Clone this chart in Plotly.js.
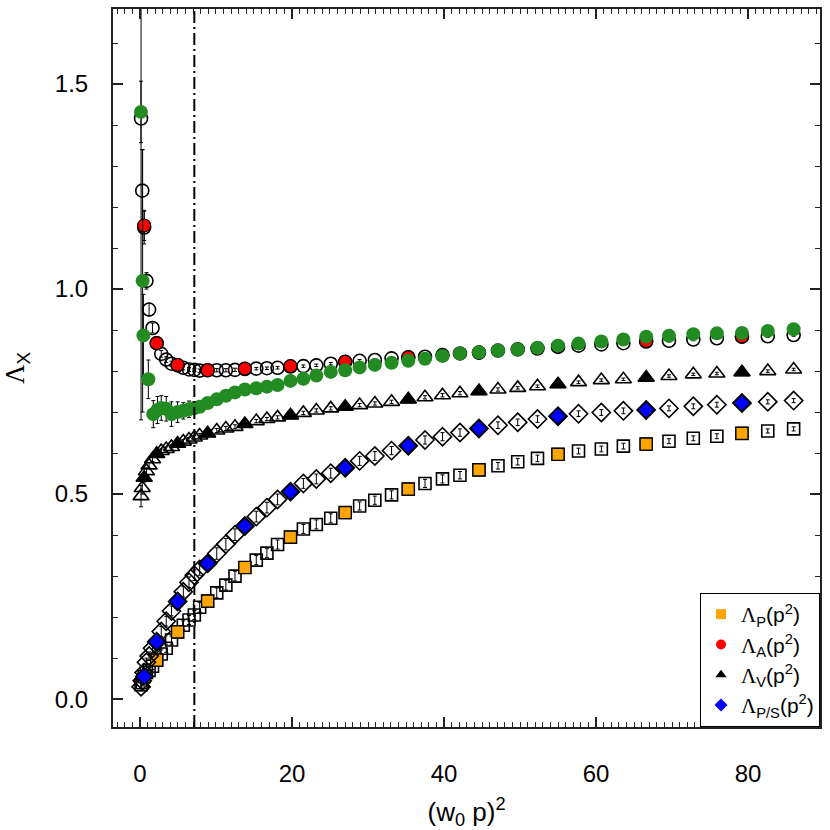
<!DOCTYPE html>
<html>
<head>
<meta charset="utf-8">
<script src="https://cdn.plot.ly/plotly-3.0.1.min.js"></script>
<style>
  html, body { margin: 0; padding: 0; background: #fff; }
  #chart { width: 830px; height: 830px; }
</style>
</head>
<body>
<div id="chart"></div>
<script>
// momenta (w0 p)^2 of the full data set
const gridX = [0.14, 0.3, 0.55, 0.85, 1.2, 1.65, 2.2, 2.8, 3.45, 4.15, 4.95, 5.7, 6.45, 7.15, 7.85, 8.9,
  10.1, 11.3, 12.5, 13.8, 15.3, 16.7, 18.1, 19.8, 21.5, 23.2, 25.1, 27.0, 28.9, 30.9, 33.1, 35.3,
  37.5, 39.8, 42.1, 44.6, 47.1, 49.7, 52.3, 55.0, 57.7, 60.7, 63.6, 66.6, 69.6, 72.8, 75.9, 79.2, 82.6, 86.0];

// open symbols
const circY = [1.416, 1.24, 1.15, 1.02, 0.95, 0.905, 0.868, 0.842, 0.828, 0.818, 0.814, 0.808, 0.804, 0.803, 0.801, 0.802,
  0.802, 0.802, 0.803, 0.805, 0.806, 0.807, 0.808, 0.811, 0.812, 0.814, 0.818, 0.822, 0.825, 0.827, 0.831, 0.833,
  0.835, 0.839, 0.843, 0.845, 0.850, 0.853, 0.855, 0.859, 0.862, 0.865, 0.868, 0.872, 0.874, 0.877, 0.880, 0.884, 0.885, 0.888];
const circErr = [0.735, 0.1, 0.04, 0.02, 0.015, 0.012, 0.01, 0.008, 0.007, 0.006, 0.005, 0.005, 0.005, 0.004, 0.004, 0.004,
  0.004, 0.004, 0.004, 0.004, 0.003, 0.003, 0.003, 0.003, 0.003, 0.003, 0.003, 0.003, 0.003, 0.003, 0.003, 0.003,
  0.003, 0.003, 0.003, 0.003, 0.003, 0.003, 0.003, 0.003, 0.003, 0.003, 0.003, 0.003, 0.003, 0.003, 0.003, 0.003, 0.003, 0.003];

const triY = [0.495, 0.515, 0.54, 0.556, 0.57, 0.585, 0.598, 0.605, 0.61, 0.615, 0.623, 0.628, 0.633, 0.638, 0.643, 0.648,
  0.655, 0.66, 0.664, 0.671, 0.678, 0.683, 0.687, 0.692, 0.698, 0.704, 0.709, 0.713, 0.717, 0.721, 0.725, 0.731,
  0.736, 0.741, 0.746, 0.751, 0.755, 0.759, 0.763, 0.768, 0.773, 0.778, 0.780, 0.784, 0.788, 0.792, 0.794, 0.797, 0.800, 0.804];
const triErr = [0.026, 0.015, 0.01, 0.008, 0.007, 0.006, 0.006, 0.005, 0.005, 0.005, 0.005, 0.005, 0.005, 0.005, 0.005, 0.005,
  0.005, 0.005, 0.005, 0.004, 0.004, 0.004, 0.004, 0.004, 0.004, 0.004, 0.004, 0.004, 0.004, 0.004, 0.004, 0.004,
  0.004, 0.004, 0.004, 0.004, 0.004, 0.003, 0.003, 0.003, 0.003, 0.003, 0.003, 0.003, 0.003, 0.003, 0.003, 0.003, 0.003, 0.003];

const diaY = [0.03, 0.045, 0.065, 0.09, 0.105, 0.124, 0.14, 0.165, 0.19, 0.215, 0.238, 0.262, 0.285, 0.302, 0.316, 0.331,
  0.355, 0.378, 0.401, 0.422, 0.445, 0.467, 0.487, 0.506, 0.526, 0.537, 0.551, 0.564, 0.581, 0.593, 0.606, 0.618,
  0.632, 0.640, 0.650, 0.660, 0.668, 0.675, 0.683, 0.690, 0.696, 0.699, 0.703, 0.705, 0.709, 0.714, 0.718, 0.722, 0.725, 0.728];
const diaErr = [0.01, 0.01, 0.01, 0.01, 0.01, 0.01, 0.01, 0.012, 0.012, 0.012, 0.012, 0.013, 0.013, 0.013, 0.014, 0.014,
  0.014, 0.014, 0.014, 0.014, 0.013, 0.013, 0.013, 0.013, 0.012, 0.012, 0.012, 0.011, 0.011, 0.011, 0.01, 0.01,
  0.01, 0.01, 0.009, 0.009, 0.008, 0.008, 0.008, 0.008, 0.007, 0.007, 0.007, 0.007, 0.006, 0.006, 0.006, 0.006, 0.005, 0.005];

const sqY = [0.035, 0.04, 0.055, 0.065, 0.07, 0.08, 0.095, 0.11, 0.124, 0.144, 0.164, 0.18, 0.193, 0.205, 0.224, 0.239,
  0.259, 0.278, 0.300, 0.321, 0.339, 0.356, 0.377, 0.395, 0.415, 0.426, 0.441, 0.455, 0.471, 0.485, 0.498, 0.512,
  0.526, 0.537, 0.546, 0.559, 0.569, 0.579, 0.587, 0.597, 0.605, 0.610, 0.617, 0.622, 0.629, 0.636, 0.641, 0.648, 0.654, 0.659];
const sqErr = [0.008, 0.008, 0.008, 0.008, 0.008, 0.008, 0.008, 0.01, 0.01, 0.01, 0.01, 0.011, 0.011, 0.011, 0.012, 0.012,
  0.012, 0.012, 0.012, 0.012, 0.011, 0.011, 0.011, 0.011, 0.011, 0.011, 0.011, 0.01, 0.01, 0.01, 0.01, 0.01,
  0.01, 0.01, 0.009, 0.009, 0.008, 0.008, 0.008, 0.008, 0.007, 0.007, 0.007, 0.007, 0.006, 0.006, 0.006, 0.006, 0.005, 0.005];

// filled symbols (subset of momenta)
const fillX = [0.55, 2.2, 4.95, 8.9, 13.8, 19.8, 27.0, 35.3, 44.6, 55.0, 66.6, 79.2];
const lamA = [1.155, 0.868, 0.815, 0.802, 0.806, 0.812, 0.823, 0.834, 0.845, 0.860, 0.873, 0.884];
const lamAErr = [0.037, 0.01, 0.006, 0.005, 0.004, 0.004, 0.003, 0.003, 0.003, 0.003, 0.003, 0.003];
const lamV = [0.54, 0.598, 0.623, 0.648, 0.671, 0.692, 0.713, 0.731, 0.751, 0.768, 0.784, 0.797];
const lamVErr = [0.01, 0.006, 0.005, 0.005, 0.004, 0.004, 0.004, 0.004, 0.004, 0.003, 0.003, 0.003];
const lamPS = [0.055, 0.14, 0.238, 0.331, 0.422, 0.506, 0.564, 0.618, 0.66, 0.69, 0.705, 0.722];
const lamPSErr = [0.01, 0.01, 0.012, 0.014, 0.014, 0.013, 0.012, 0.01, 0.009, 0.008, 0.007, 0.006];
const lamP = [0.055, 0.095, 0.164, 0.239, 0.321, 0.395, 0.455, 0.512, 0.559, 0.597, 0.622, 0.648];
const lamPErr = [0.008, 0.008, 0.01, 0.012, 0.012, 0.011, 0.01, 0.01, 0.009, 0.008, 0.007, 0.006];

// green circles
const greenX = [0.13, 0.35, 0.45, 1.1, 1.75, 2.3, 2.8, 3.45, 4.15, 4.95, 5.7, 6.45, 7.15, 7.85, 8.9,
  10.1, 11.3, 12.5, 13.8, 15.3, 16.7, 18.1, 19.8, 21.5, 23.2, 25.1, 27.0, 28.9, 30.9, 33.1, 35.3,
  37.5, 39.8, 42.1, 44.6, 47.1, 49.7, 52.3, 55.0, 57.7, 60.7, 63.6, 66.6, 69.6, 72.8, 75.9, 79.2, 82.6, 86.0];
const greenY = [1.432, 1.02, 0.887, 0.78, 0.695, 0.705, 0.71, 0.708, 0.695, 0.700, 0.703, 0.707, 0.71, 0.713, 0.722,
  0.731, 0.740, 0.748, 0.755, 0.758, 0.762, 0.766, 0.776, 0.781, 0.789, 0.798, 0.802, 0.809, 0.815, 0.820, 0.825,
  0.830, 0.837, 0.843, 0.846, 0.850, 0.853, 0.857, 0.862, 0.867, 0.872, 0.877, 0.884, 0.886, 0.890, 0.892, 0.893, 0.898, 0.902];
const greenErr = [0.075, 0.32, 0.1, 0.047, 0.033, 0.033, 0.03, 0.03, 0.03, 0.025, 0.02, 0.02, 0.015, 0.012, 0.01,
  0.01, 0.008, 0.008, 0.007, 0.006, 0.006, 0.006, 0.005, 0.005, 0.005, 0.004, 0.004, 0.004, 0.004, 0.004, 0.004,
  0.003, 0.003, 0.003, 0.003, 0.003, 0.003, 0.003, 0.003, 0.003, 0.003, 0.003, 0.003, 0.003, 0.003, 0.003, 0.003, 0.003, 0.003];

const cutX = 7.15;
const LAM = "<span style='font-family:Liberation Serif'>Λ</span>";
const legendNames = [LAM + "<sub>P</sub>(p<sup>2</sup>)", LAM + "<sub>A</sub>(p<sup>2</sup>)",
  LAM + "<sub>V</sub>(p<sup>2</sup>)", LAM + "<sub>P/S</sub>(p<sup>2</sup>)"];

function errBar(arr) {
  return { type: "data", array: arr, visible: true, color: "#000", thickness: 1, width: 2 };
}

function pts(x, y, err, symbol, size, fill, lineW) {
  return {
    type: "scatter",
    mode: "markers",
    x, y,
    error_y: errBar(err),
    marker: { symbol, size, color: fill, line: { color: "#000", width: lineW } },
    showlegend: false,
    hoverinfo: "x+y",
  };
}

// legend-only entries (no outline, like the reference key)
function key(name, symbol, color) {
  return {
    type: "scatter", mode: "markers", x: [null], y: [null], name,
    marker: { symbol, size: 10, color, line: { width: 0 } },
    showlegend: true, hoverinfo: "skip",
  };
}

const traces = [
  pts(gridX, sqY, sqErr, "square-open", 12, "#000", 1.6),
  pts(fillX, lamP, lamPErr, "square", 12, "#ffa500", 1.2),
  pts(gridX, diaY, diaErr, "diamond-open", 14, "#000", 1.6),
  pts(fillX, lamPS, lamPSErr, "diamond", 13, "#0000ff", 1.5),
  pts(gridX, triY, triErr, "triangle-up-open", 14, "#000", 1.6),
  pts(fillX, lamV, lamVErr, "triangle-up", 14, "#000", 1),
  pts(gridX, circY, circErr, "circle-open", 13, "#000", 1.6),
  pts(fillX, lamA, lamAErr, "circle", 13, "#ff0000", 1.2),
  pts(greenX, greenY, greenErr, "circle", 14, "#228b22", 0),
  key(legendNames[0], "square", "#ffa500"),
  key(legendNames[1], "circle", "#ff0000"),
  key(legendNames[2], "triangle-up", "#000"),
  key(legendNames[3], "diamond", "#0000ff"),
];

const axisCommon = {
  showline: true,
  linecolor: "#222",
  linewidth: 2,
  mirror: "allticks",
  ticks: "inside",
  ticklen: 10,
  tickwidth: 1.5,
  tickcolor: "#222",
  showgrid: false,
  zeroline: false,
  tickfont: { family: "Liberation Sans, Arial, sans-serif", size: 24, color: "#000" },
};

const layout = {
  width: 830,
  height: 830,
  margin: { l: 113, r: 10, t: 9, b: 103 },
  paper_bgcolor: "#fff",
  plot_bgcolor: "#fff",
  font: { family: "Liberation Sans, Arial, sans-serif", color: "#000" },
  xaxis: Object.assign({}, axisCommon, {
    range: [-3.55, 89.47],
    tickvals: [0, 20, 40, 60, 80],
    ticklabelstandoff: 24,
    minor: { ticks: "inside", ticklen: 5, dtick: 1, tick0: 0, tickcolor: "#222", tickwidth: 1 },
    title: { text: "(w<sub>0</sub> p)<sup>2</sup>", font: { size: 26 }, standoff: 17 },
  }),
  yaxis: Object.assign({}, axisCommon, {
    range: [-0.068, 1.683],
    tickvals: [0, 0.5, 1.0, 1.5],
    tickformat: ".1f",
    ticklabelstandoff: 18,
    minor: { ticks: "inside", ticklen: 5, dtick: 0.1, tick0: 0, tickcolor: "#222", tickwidth: 1 },
    title: { text: LAM + "<sub>X</sub>", font: { size: 27 }, standoff: 24 },
  }),
  shapes: [{
    type: "line", xref: "x", yref: "paper",
    x0: cutX, x1: cutX, y0: 0, y1: 1,
    line: { color: "#000", width: 2, dash: "12px,4px,2px,4px" },
  }],
  legend: {
    x: 1, xanchor: "right", y: 0, yanchor: "bottom",
    bgcolor: "#fff", bordercolor: "#000", borderwidth: 1,
    font: { size: 21, family: "Liberation Sans, Arial, sans-serif" },
    tracegroupgap: 0,
  },
  showlegend: true,
};

Plotly.newPlot("chart", traces, layout, { displayModeBar: false, staticPlot: true });
</script>
</body>
</html>
